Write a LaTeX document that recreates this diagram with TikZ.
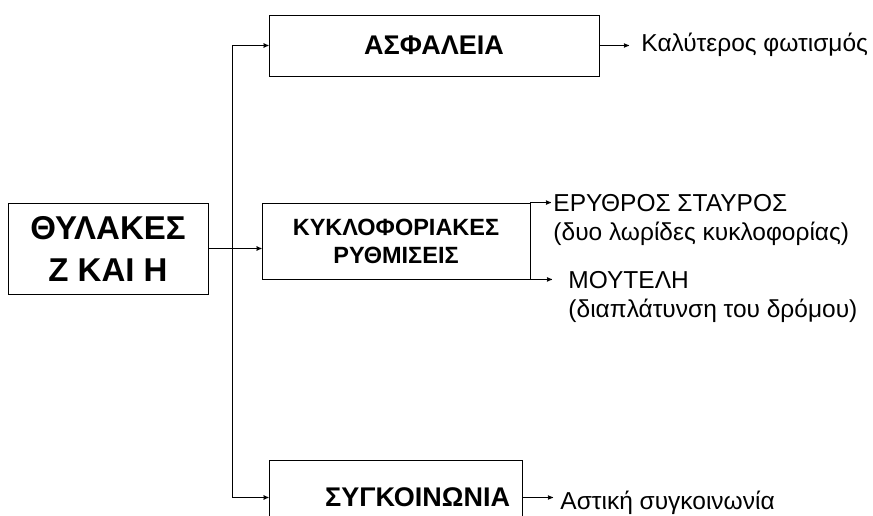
\documentclass[tikz,border=0pt]{standalone}
\usepackage{fontspec}
\setmainfont{Liberation Sans}
\usetikzlibrary{arrows,positioning}

\begin{document}
\begin{tikzpicture}[x=1pt,y=-1pt,>=stealth',line width=0.9pt,
		main node/.style={rectangle,draw,inner sep=0pt,font=\bfseries\fontsize{27}{32}\selectfont},
		note/.style={inner sep=0pt,align=left,font=\fontsize{24.5}{29}\selectfont}]
		\useasboundingbox (0,0) rectangle (873,516);
		\clip (0,0) rectangle (873,516);
		
		\node[main node,minimum width=200pt,minimum height=91pt,align=center,
			font=\bfseries\fontsize{33}{42}\selectfont] (1) at (108,248.5) {ΘΥΛΑΚΕΣ\\Ζ ΚΑΙ Η};
		\node[main node,minimum width=330pt,minimum height=61pt] (2) at (434,45.5) {ΑΣΦΑΛΕΙΑ};
		\node[main node,minimum width=268pt,minimum height=76pt,align=center,
			font=\bfseries\fontsize{23.5}{28}\selectfont] (3) at (396,241) {ΚΥΚΛΟΦΟΡΙΑΚΕΣ\\ΡΥΘΜΙΣΕΙΣ};
		\node[main node,minimum width=253pt,minimum height=75pt,text width=229pt,align=right] (4) at (395.5,497.5) {ΣΥΓΚΟΙΝΩΝΙΑ};
		
		\node[note,anchor=west] (5) at (641,45) {Καλύτερος φωτισμός};
		\node[note,anchor=north west] (6) at (553,194) {ΕΡΥΘΡΟΣ ΣΤΑΥΡΟΣ\\(δυο λωρίδες κυκλοφορίας)};
		\node[note,anchor=north west] (7) at (568,271) {ΜΟΥΤΕΛΗ\\(διαπλάτυνση του δρόμου)};
		\node[note,anchor=west] (8) at (560,503) {Αστική συγκοινωνία};
		
		\coordinate (j) at (232,248.5);
		
		\draw[->] (1.east) -- (3.west |- 1.east);
		\draw[->] (j) |- (2);
		\draw[->] (j) |- (4);
		\draw[->,shorten >=12pt] (2.east) -- (2.east -| 5.west);
		\draw[->,shorten >=2pt] (3.north east) -- (3.north east -| 6.west);
		\draw[->,shorten >=16pt] (3.south east) -- (3.south east -| 7.west);
		\draw[->,shorten >=7pt] (4.east) -- (4.east -| 8.west);
		\end{tikzpicture}
\end{document}
